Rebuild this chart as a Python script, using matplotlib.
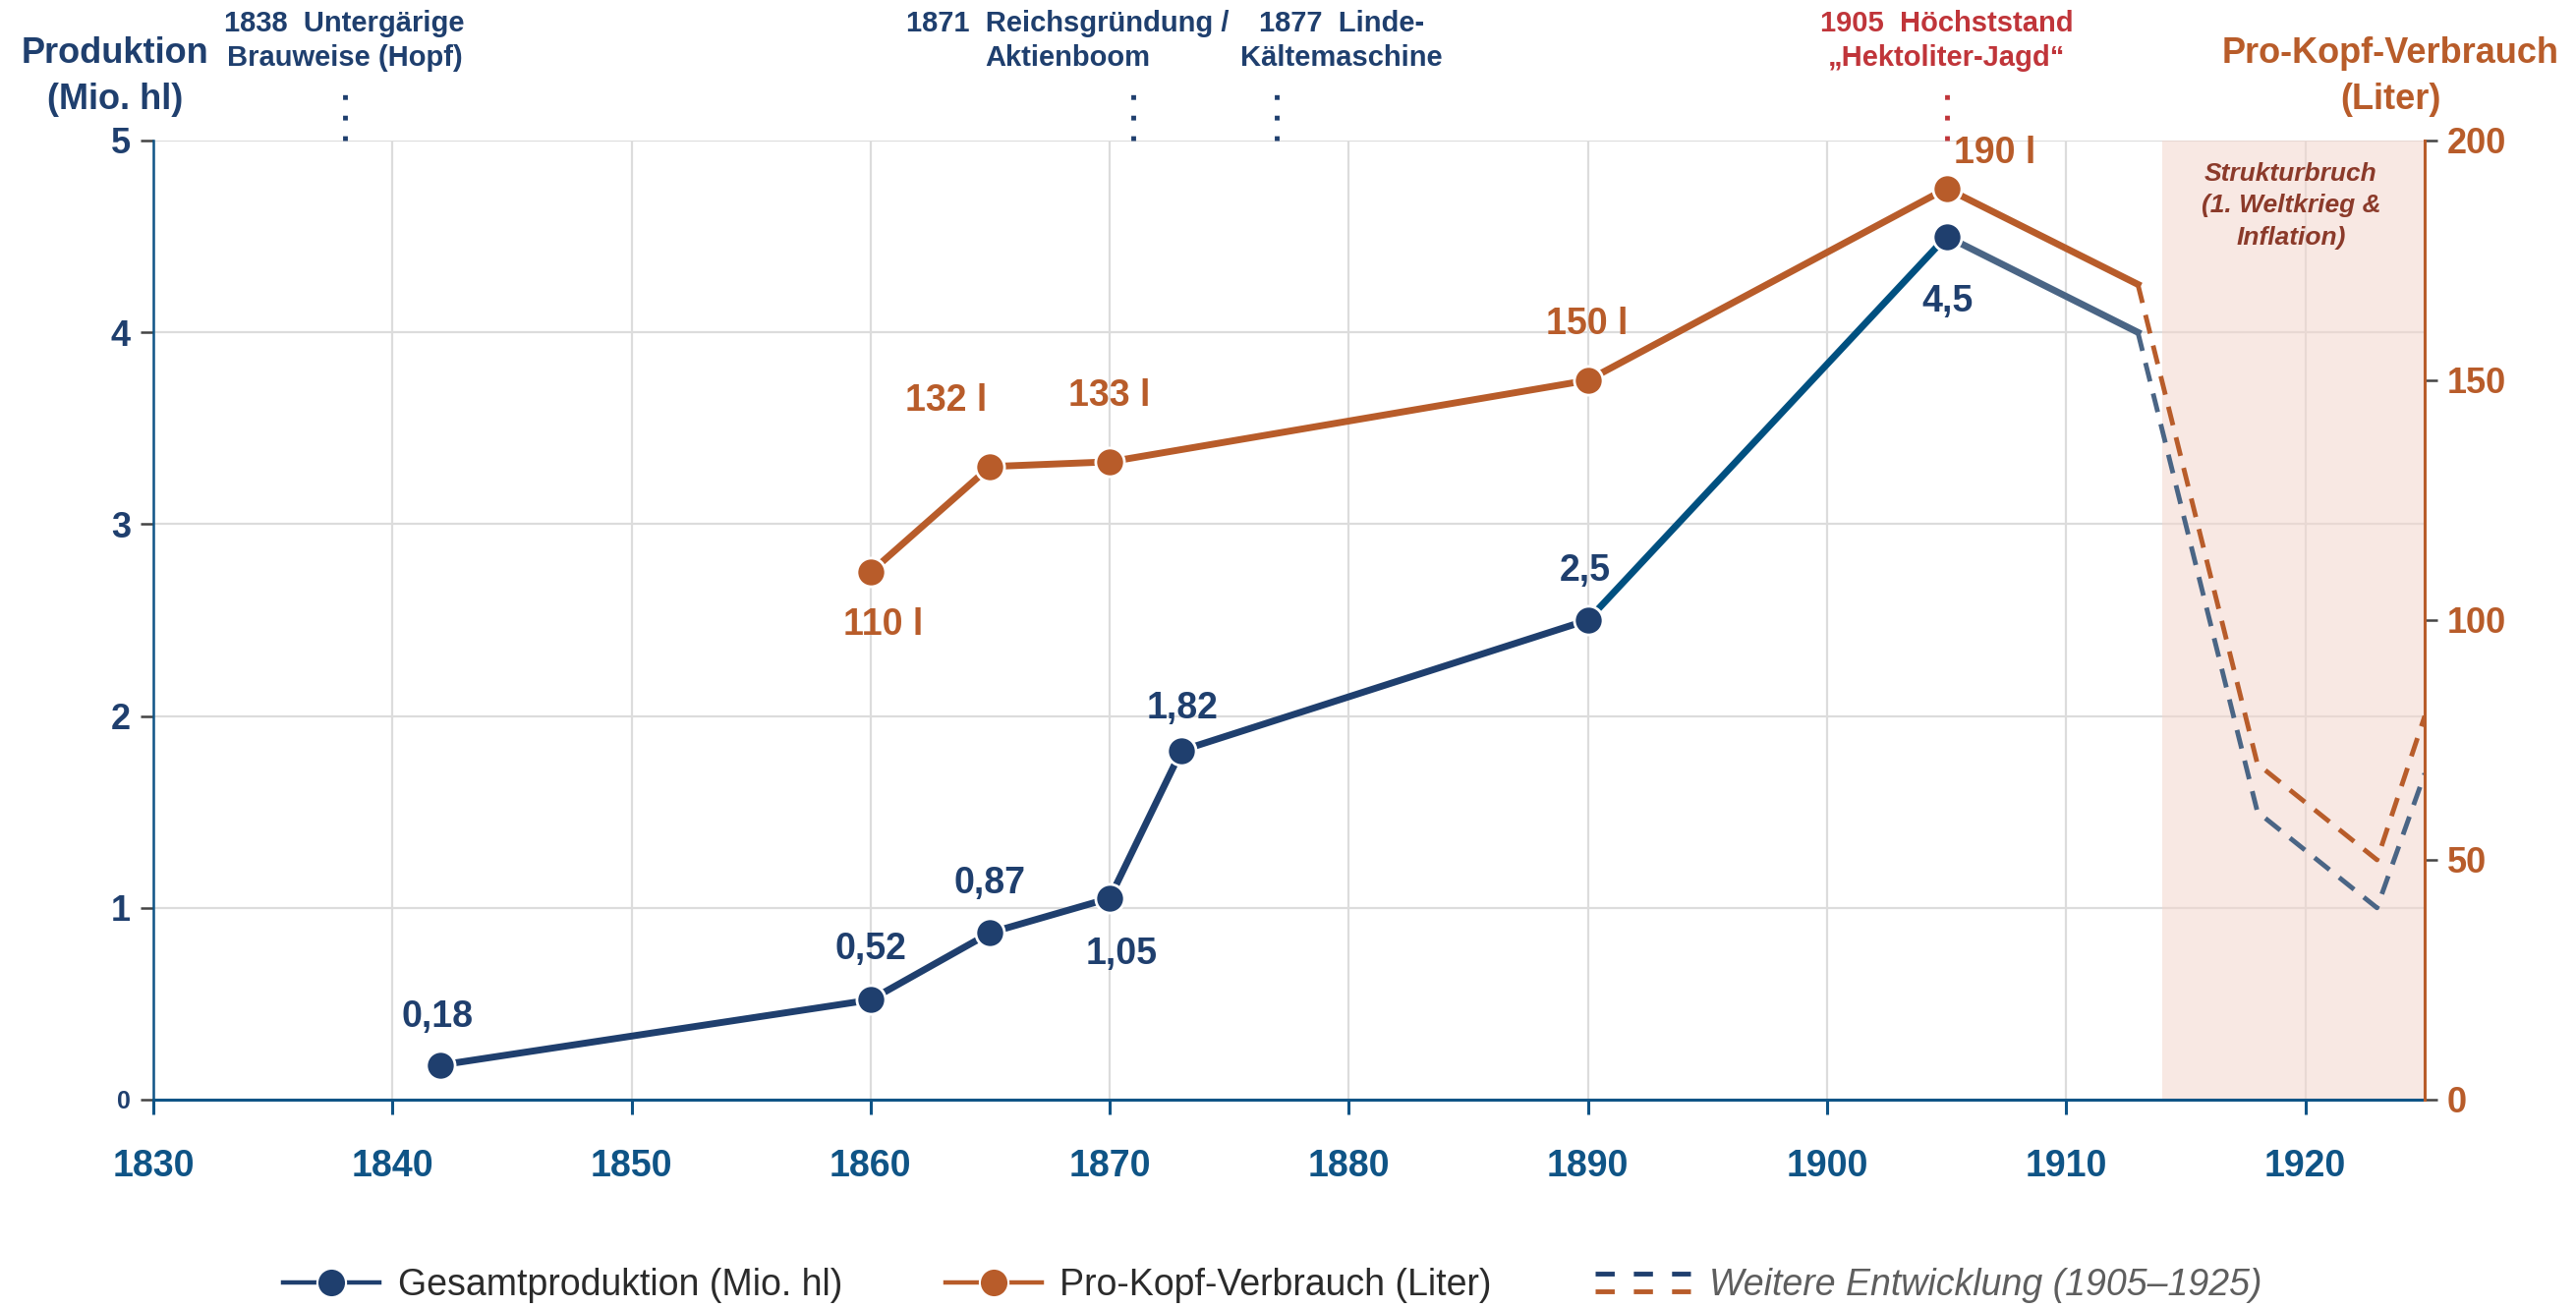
import matplotlib
matplotlib.use("Agg")
import matplotlib.pyplot as plt
from matplotlib.lines import Line2D
from matplotlib.legend_handler import HandlerBase
from matplotlib.transforms import blended_transform_factory

plt.rcParams['font.family'] = ['Liberation Sans', 'DejaVu Sans']

# --- data -----------------------------------------------------------------
prod_years = [1842, 1860, 1865, 1870, 1873, 1890, 1905]
prod_vals = [0.18, 0.52, 0.87, 1.05, 1.82, 2.5, 4.5]
prod_labels = ["0,18", "0,52", "0,87", "1,05", "1,82", "2,5", "4,5"]

cons_years = [1860, 1865, 1870, 1890, 1905]
cons_vals = [110, 132, 133, 150, 190]
cons_labels = ["110 l", "132 l", "133 l", "150 l", "190 l"]

late_years = [1905, 1913]
late_prod = [4.5, 4.0]
late_cons = [190, 170]

dash_years = [1913, 1918, 1923, 1925]
dash_prod = [4.0, 1.5, 1.0, 1.7]
dash_cons = [170, 70, 50, 80]

event_years = [1838, 1871, 1877, 1905]
event_texts = ["1838  Untergärige\nBrauweise (Hopf)",
               "1871  Reichsgründung /\nAktienboom",
               "1877  Linde-\nKältemaschine",
               "1905  Höchststand\n„Hektoliter-Jagd“"]

x_ticks = [1830, 1840, 1850, 1860, 1870, 1880, 1890, 1900, 1910, 1920]
left_ticks = [0, 1, 2, 3, 4, 5]
right_ticks = [0, 50, 100, 150, 200]
break_span = (1914, 1925)

# --- colours --------------------------------------------------------------
NAVY = "#1f3f6e"
AXBLUE = "#0f5486"
MIDBLUE = "#005080"
SLATE = "#4a6585"
ORANGE = "#b85c2a"
RED = "#c0353a"
BROWN = "#8b3a2a"
GRID = "#dcdcdc"

fig = plt.figure(figsize=(26.21, 13.31), dpi=100)
ax = fig.add_axes([0.0595, 0.1593, 0.9413 - 0.0595, 0.8926 - 0.1593])
ax2 = ax.twinx()

ax.set_xlim(1830, 1925)
ax.set_ylim(0, 5)
ax2.set_ylim(0, 200)

# grid + shaded period
ax.set_xticks(x_ticks)
ax.set_yticks(left_ticks)
ax.grid(True, color=GRID, lw=1.6, zorder=0)
ax.set_axisbelow(True)
ax.axvspan(*break_span, color="#f3d6cc", alpha=0.55, lw=0, zorder=1)
ax.text(sum(break_span) / 2 - 0.1, 4.66, "Strukturbruch\n(1. Weltkrieg &\nInflation)",
        ha="center", va="center", fontsize=19, fontweight="bold", style="italic",
        color=BROWN, linespacing=1.45, zorder=2)

# production line
ax.plot(prod_years[:-1], prod_vals[:-1], color=NAVY, lw=5, zorder=3)
ax.plot(prod_years[-2:], prod_vals[-2:], color=MIDBLUE, lw=5, zorder=3)
ax.plot(late_years, late_prod, color=SLATE, lw=5, zorder=3)
ax.plot(dash_years, dash_prod, color=SLATE, lw=3.5, ls=(0, (4, 2.6)), zorder=3)
ax.plot(prod_years, prod_vals, ls="none", marker="o", ms=21, mfc=NAVY,
        mec="white", mew=2, zorder=4)

# per-capita line
ax2.plot(cons_years + late_years[1:], cons_vals + late_cons[1:], color=ORANGE,
         lw=5, zorder=3)
ax2.plot(dash_years, dash_cons, color=ORANGE, lw=3.5, ls=(0, (4, 2.6)), zorder=3)
ax2.plot(cons_years, cons_vals, ls="none", marker="o", ms=21, mfc=ORANGE,
         mec="white", mew=2, zorder=4)

# value labels (offsets in points)
prod_off = [(-2, 35), (0, 37), (0, 36), (9, -41), (1, 31), (-2, 36), (1, -48)]
for x, y, t, (dx, dy) in zip(prod_years, prod_vals, prod_labels, prod_off):
    ax.annotate(t, (x, y), xytext=(dx, dy), textcoords="offset points",
                ha="center", va="center", fontsize=27, fontweight="bold",
                color=NAVY, zorder=5)
cons_off = [(9, -39), (-32, 48), (0, 48), (-1, 41), (35, 26)]
for x, y, t, (dx, dy) in zip(cons_years, cons_vals, cons_labels, cons_off):
    ax2.annotate(t, (x, y), xytext=(dx, dy), textcoords="offset points",
                 ha="center", va="center", fontsize=27, fontweight="bold",
                 color=ORANGE, zorder=5)

# event markers above the plot
trans = blended_transform_factory(ax.transData, ax.transAxes)
event_dx = [0, -48, 47, 0]
for yr, txt, dx in zip(event_years, event_texts, event_dx):
    col = RED if yr == 1905 else NAVY
    ax.plot([yr, yr], [1.0, 1.048], transform=trans, clip_on=False, color=col,
            lw=3.5, ls=(0, (1, 3.3)), solid_capstyle="butt")
    ax.annotate(txt, (yr, 1.0), xycoords=trans, xytext=(dx, 73),
                textcoords="offset points", ha="center", va="center",
                fontsize=21, fontweight="bold", color=col, linespacing=1.35,
                annotation_clip=False)

# spines & ticks
for s in ["top", "right"]:
    ax.spines[s].set_visible(False)
ax.spines["left"].set_color(AXBLUE)
ax.spines["left"].set_linewidth(1.8)
ax.spines["bottom"].set_color(AXBLUE)
ax.spines["bottom"].set_linewidth(2.2)
for s in ["top", "left", "bottom"]:
    ax2.spines[s].set_visible(False)
ax2.spines["right"].set_color(ORANGE)
ax2.spines["right"].set_linewidth(2.2)

ax.tick_params(axis="x", length=11, width=2.2, color=AXBLUE, pad=25,
               labelsize=27, labelcolor=AXBLUE)
ax.tick_params(axis="y", length=9.5, width=1.8, color="#444444", pad=7,
               labelsize=26, labelcolor=NAVY)
for lab in ax.get_xticklabels() + ax.get_yticklabels():
    lab.set_fontweight("bold")
ax.get_yticklabels()[0].set_fontsize(18)

ax2.set_yticks(right_ticks)
ax2.tick_params(axis="y", length=9.5, width=1.8, color="#444444", pad=7,
                labelsize=26, labelcolor=ORANGE)
for lab in ax2.get_yticklabels():
    lab.set_fontweight("bold")

# axis titles
fig.text(117 / 2621, 1 - 78 / 1331, "Produktion\n(Mio. hl)", ha="center",
         va="center", fontsize=26, fontweight="bold", color=NAVY, linespacing=1.45)
fig.text(2432 / 2621, 1 - 78 / 1331, "Pro-Kopf-Verbrauch\n(Liter)", ha="center",
         va="center", fontsize=26, fontweight="bold", color=ORANGE, linespacing=1.45)


# legend
class HandlerStacked(HandlerBase):
    def create_artists(self, legend, orig_handle, xdescent, ydescent,
                       width, height, fontsize, trans):
        arts = []
        for h, frac in zip(orig_handle, (0.85, 0.15)):
            ln = Line2D([-xdescent, -xdescent + width],
                        [height * frac - ydescent] * 2)
            ln.update_from(h)
            ln.set_transform(trans)
            arts.append(ln)
        return arts


h1 = Line2D([], [], color=NAVY, lw=3.2, marker="o", ms=21, mfc=NAVY,
            mec="white", mew=1.5)
h2 = Line2D([], [], color=ORANGE, lw=3.2, marker="o", ms=21, mfc=ORANGE,
            mec="white", mew=1.5)
h3a = Line2D([], [], color=NAVY, lw=3.5, ls=(0, (4, 4)))
h3b = Line2D([], [], color=ORANGE, lw=3.5, ls=(0, (4, 4)))
leg = fig.legend([h1, h2, (h3a, h3b)],
                 ["Gesamtproduktion (Mio. hl)", "Pro-Kopf-Verbrauch (Liter)",
                  "Weitere Entwicklung (1905–1925)"],
                 handler_map={tuple: HandlerStacked()},
                 loc="center", bbox_to_anchor=(1295 / 2621, 1 - 1308 / 1331),
                 ncol=3, frameon=False, fontsize=27, handlelength=2.6,
                 handletextpad=0.5, columnspacing=2.8)
for t, c in zip(leg.get_texts(), ["#2b2b2b", "#2b2b2b", "#5e5e5e"]):
    t.set_color(c)
leg.get_texts()[2].set_fontstyle("italic")

fig.savefig("out.png", dpi=100)
